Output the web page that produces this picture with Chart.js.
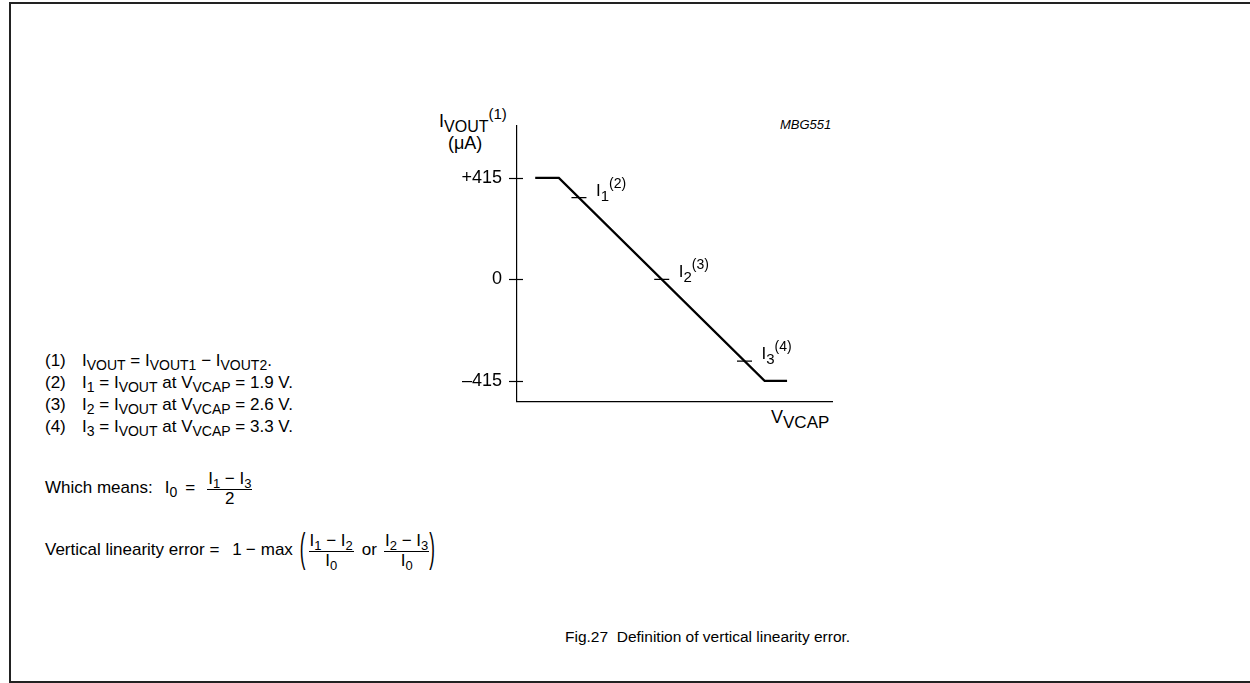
<!DOCTYPE html>
<html>
<head>
<meta charset="utf-8">
<script src="https://cdn.jsdelivr.net/npm/chart.js@4"></script>
<style>
    html, body { margin: 0; padding: 0; background: #fff; }
    body { width: 1250px; height: 683px; position: relative; overflow: hidden;
           font-family: "Liberation Sans", Arial, sans-serif; color: #000; }
    .frame { position: absolute; left: 9px; top: 2px; width: 1260px; height: 677px;
             border: 2px solid #222; box-sizing: content-box; }
    .abs { position: absolute; white-space: nowrap; }
    sub, sup { font-size: 14px; line-height: 0; }
    sub { vertical-align: -4px; }
    sup { vertical-align: 8px; }
    #chart-box { position: absolute; left: 420px; top: 100px; width: 430px; height: 327px; }
    .notes { position: absolute; left: 45px; top: 350px; font-size: 17px; line-height: 22px; }
    .notes .n { display: inline-block; width: 37px; }
    .row { position: absolute; left: 45px; display: flex; align-items: baseline; font-size: 17px;
           line-height: 20px; white-space: nowrap; }
    .frac { display: inline-flex; flex-direction: column; align-items: center; line-height: 17px;
            position: relative; top: -9px; }
    .frac sub { font-size: 13px; }
    .frac .num { border-bottom: 1px solid #000; padding: 0 1px 2px; }
    .paren { display: inline-block; transform: scaleY(2.4); }
    .mlabel { position: absolute; font-size: 17px; line-height: 17px; white-space: nowrap; }
    .mlabel sub { font-size: 15px; vertical-align: -5px; }
    .mlabel sup { font-size: 14px; vertical-align: 8px; }
</style>
</head>
<body>
<div class="frame"></div>

<div class="abs" style="left:439px; top:112px; font-size:18px; line-height:18px;">I<sub style="font-size:16px; vertical-align:-5px;">VOUT</sub><sup style="font-size:15px;">(1)</sup></div>
<div class="abs" style="left:448px; top:134px; font-size:18px; line-height:18px;">(μA)</div>
<div class="abs" style="left:780px; top:118px; font-size:13px; line-height:14px; font-style:italic;">MBG551</div>
<div class="abs" style="left:771px; top:408px; font-size:18px; line-height:18px;">V<sub style="font-size:17px; vertical-align:-5px;">VCAP</sub></div>

<div id="chart-box"><canvas id="linearity-chart"></canvas></div>

<div class="mlabel" id="lbl-0">I<sub>1</sub><sup>(2)</sup></div>
<div class="mlabel" id="lbl-1">I<sub>2</sub><sup>(3)</sup></div>
<div class="mlabel" id="lbl-2">I<sub>3</sub><sup>(4)</sup></div>

<div class="notes">
    <div><span class="n">(1)</span>I<sub>VOUT</sub> = I<sub>VOUT1</sub> − I<sub>VOUT2</sub>.</div>
    <div><span class="n">(2)</span>I<sub>1</sub> = I<sub>VOUT</sub> at V<sub>VCAP</sub> = 1.9 V.</div>
    <div><span class="n">(3)</span>I<sub>2</sub> = I<sub>VOUT</sub> at V<sub>VCAP</sub> = 2.6 V.</div>
    <div><span class="n">(4)</span>I<sub>3</sub> = I<sub>VOUT</sub> at V<sub>VCAP</sub> = 3.3 V.</div>
</div>

<div class="row" style="top:478px;">
    <span>Which means:</span>
    <span style="margin-left:12px;">I<sub>0</sub></span>
    <span style="margin-left:8px;">=</span>
    <span class="frac" style="margin-left:12px;"><span class="num">I<sub>1</sub> − I<sub>3</sub></span><span>2</span></span>
</div>

<div class="row" style="top:540px;">
    <span>Vertical linearity error =</span>
    <span style="margin-left:13px;">1</span>
    <span style="margin-left:4px;">−</span>
    <span style="margin-left:5px;">max</span>
    <span class="paren" style="margin-left:7px;">(</span>
    <span class="frac" style="margin-left:3px;"><span class="num">I<sub>1</sub> − I<sub>2</sub></span><span>I<sub>0</sub></span></span>
    <span style="margin-left:8px;">or</span>
    <span class="frac" style="margin-left:7px;"><span class="num">I<sub>2</sub> − I<sub>3</sub></span><span>I<sub>0</sub></span></span>
    <span class="paren" style="margin-left:0px;">)</span>
</div>

<div class="abs" style="left:565px; top:628px; font-size:15.5px; line-height:18px;">Fig.27&nbsp; Definition of vertical linearity error.</div>

<script>
// transfer curve (V_VCAP in volts, I_VOUT in uA)
const curveV = [1.53, 1.73, 3.47, 3.66];
const curveI = [415, 415, -415, -415];

// measurement points I1, I2, I3
const markV = [1.9, 2.6, 3.3];
const markI = [334, 0, -334];

// y axis ticks
const yTicks = [-415, 0, 415];
const yTickLabels = ['\u2013415', '0', '+415'];

const xRange = [1.376, 4.04];
const yRange = [-498, 628];

// short tick marks crossing the y axis + placing the marker labels
const axisTicks = {
    id: 'axisTicks',
    afterDraw(chart) {
        const ctx = chart.ctx;
        const y = chart.scales.y;
        const x = chart.scales.x;
        const left = chart.chartArea.left;
        ctx.save();
        ctx.strokeStyle = '#000';
        ctx.lineWidth = 1.2;
        yTicks.forEach(v => {
            const py = Math.round(y.getPixelForValue(v)) + 0.5;
            ctx.beginPath();
            ctx.moveTo(left - 8, py);
            ctx.lineTo(left + 6, py);
            ctx.stroke();
        });
        ctx.restore();

        const box = chart.canvas.getBoundingClientRect();
        markV.forEach((v, i) => {
            const el = document.getElementById('lbl-' + i);
            el.style.left = (box.left + x.getPixelForValue(v) + 17) + 'px';
            el.style.top = (box.top + y.getPixelForValue(markI[i]) - 16) + 'px';
        });
    }
};

new Chart(document.getElementById('linearity-chart'), {
    type: 'scatter',
    data: {
        datasets: [{
            data: curveV.map((v, i) => ({ x: v, y: curveI[i] })),
            showLine: true,
            borderColor: '#000',
            borderWidth: 2.2,
            pointRadius: 0,
            tension: 0
        }, {
            data: markV.map((v, i) => ({ x: v, y: markI[i] })),
            showLine: false,
            pointStyle: 'line',
            pointRadius: 7.5,
            borderColor: '#000',
            borderWidth: 1.2
        }]
    },
    options: {
        responsive: true,
        maintainAspectRatio: false,
        animation: false,
        events: [],
        layout: { padding: { top: 23, right: 18, left: 0, bottom: 0 } },
        plugins: {
            legend: { display: false },
            tooltip: { enabled: false }
        },
        scales: {
            x: {
                type: 'linear',
                min: xRange[0],
                max: xRange[1],
                ticks: { display: false },
                grid: { display: false, drawTicks: false },
                border: { display: true, color: '#000', width: 1.2 },
                afterFit: scale => { scale.height = 17; }
            },
            y: {
                type: 'linear',
                min: yRange[0],
                max: yRange[1],
                afterBuildTicks: scale => { scale.ticks = yTicks.map(v => ({ value: v })); },
                ticks: {
                    color: '#000',
                    padding: 15,
                    font: { family: '"Liberation Sans", Arial, sans-serif', size: 18 },
                    callback: value => yTickLabels[yTicks.indexOf(value)]
                },
                grid: { display: false, drawTicks: false },
                border: { display: true, color: '#000', width: 1.2 },
                afterFit: scale => { scale.width = 97; }
            }
        }
    },
    plugins: [axisTicks]
});
</script>
</body>
</html>
